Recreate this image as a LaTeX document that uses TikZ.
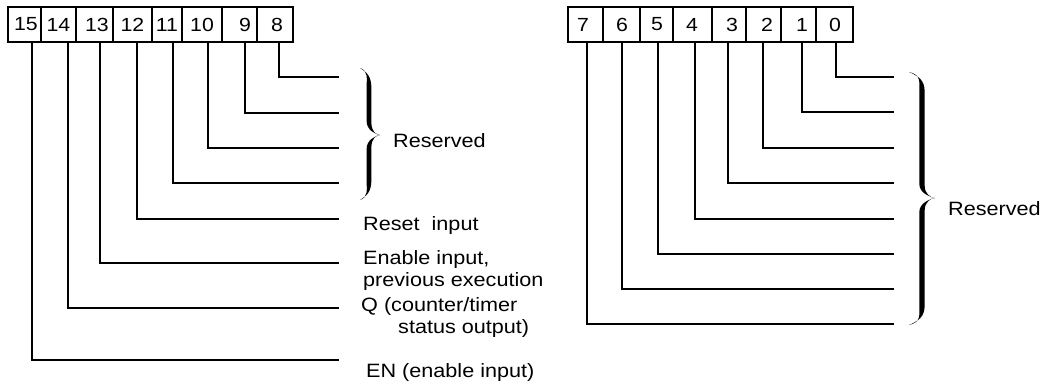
\documentclass[tikz,border=0pt]{standalone}
\usepackage{fontspec}
\setmainfont{Liberation Sans}[FakeStretch=1.12]

% calligraphic right-facing brace:
% #1 x of the curled ends, #2 top y, #3 bottom y, #4 spine x, #5 tip x, #6 tip y, #7 half stroke
\newcommand{\calbrace}[7]{%
  \fill
    (#1,#2) .. controls ({#4-0.2*#7},{#2+3}) and ({#4-#7},{#2+10}) .. ({#4-#7},{#2+20})
    -- ({#4-#7},{#6-14})
    .. controls ({#4-#7},{#6-5}) and ({#5-5},{#6-1}) .. (#5,#6)
    .. controls ({#5-5},{#6+1}) and ({#4-#7},{#6+5}) .. ({#4-#7},{#6+14})
    -- ({#4-#7},{#3-20})
    .. controls ({#4-#7},{#3-10}) and ({#4-0.2*#7},{#3-3}) .. (#1,#3)
    .. controls ({#4+0.5*#7},{#3-6}) and ({#4+#7},{#3-12}) .. ({#4+#7},{#3-22})
    -- ({#4+#7},{#6+12})
    .. controls ({#4+#7},{#6+4}) and ({#5-4},{#6}) .. (#5,#6)
    .. controls ({#5-4},{#6}) and ({#4+#7},{#6-4}) .. ({#4+#7},{#6-12})
    -- ({#4+#7},{#2+22})
    .. controls ({#4+#7},{#2+12}) and ({#4+0.5*#7},{#2+6}) .. (#1,#2)
    -- cycle;}

\begin{document}
\begin{tikzpicture}[x=1pt,y=-1pt,
  bitbox/.style={draw, line width=1.1pt, inner sep=0pt, minimum height=35pt,
                 font=\fontsize{19}{22}\selectfont},
  wire/.style={line width=1.8pt},
  heavywire/.style={line width=2.6pt},
  lbl/.style={anchor=base west, inner sep=0pt, font=\fontsize{19.3}{22}\selectfont}]
\useasboundingbox (0,0) rectangle (1048,383);

% ---- high byte: bits 15..8 (bit / left / right / digit shift) ----
\foreach \b/\l/\r/\t in {15/8/41/1.5, 14/41/76/0, 13/76/113/2.5, 12/113/152/0,
                         11/152/182/0, 10/182/222/0, 9/222/257/5.5, 8/257/293/2}
  \node[bitbox, minimum width=\r pt-\l pt] (b\b) at ({(\l+\r)/2}, 24.5)
    {\hspace*{\t pt}\hspace*{\t pt}\raisebox{-2pt}{\b}};

\foreach \b/\dx/\y/\s in {8/4/77/wire, 9/5.5/113/wire, 10/6/148/wire, 11/6/183/wire,
                          12/4.5/219/wire, 13/5.5/263/heavywire, 14/9.5/308/wire, 15/7.5/360/wire}
{
  \coordinate (e\b) at (339,\y);
  \draw[\s] ([xshift=\dx pt]b\b.south) |- (e\b);
}

% ---- low byte: bits 7..0 ----
\foreach \b/\l/\r/\t in {7/568/603/-2.5, 6/603/640/0.5, 5/640/673/0.5, 4/673/712/-0.5,
                         3/712/746/3, 2/746/781/3.5, 1/781/816/3.5, 0/816/853/0.5}
  \node[bitbox, minimum width=\r pt-\l pt] (b\b) at ({(\l+\r)/2}, 24.5)
    {\hspace*{\t pt}\hspace*{\t pt}\raisebox{-2pt}{\b}};

\foreach \b/\dx/\y/\s in {0/1.5/77/wire, 1/3.5/112/heavywire, 2/-0.5/148/wire, 3/-1/183/wire,
                          4/2.5/219/wire, 5/1.5/254/wire, 6/0.5/289/wire, 7/1.5/324/wire}
{
  \coordinate (e\b) at (894,\y);
  \draw[\s] ([xshift=\dx pt]b\b.south) |- (e\b);
}

% ---- braces ----
\calbrace{360}{68}{200}{369}{380}{135}{2.4}
\calbrace{909}{72}{325}{922}{935}{198}{2.7}

% ---- labels ----
\node[lbl] (resL)  at (393,147) {Reserved};
\node[lbl] (rst)   at (363,230) {Reset\ \ input};
\node[lbl] (enA)   at (363,264) {Enable input,};
\node[lbl] (enB)   at (363,286) {previous execution};
\node[lbl] (qA)    at (361,311) {Q (counter/timer};
\node[lbl] (qB)    at (398,333) {status output)};
\node[lbl] (en)    at (366,377) {EN (enable input)};
\node[lbl] (resR)  at (948,215) {Reserved};
\end{tikzpicture}
\end{document}
